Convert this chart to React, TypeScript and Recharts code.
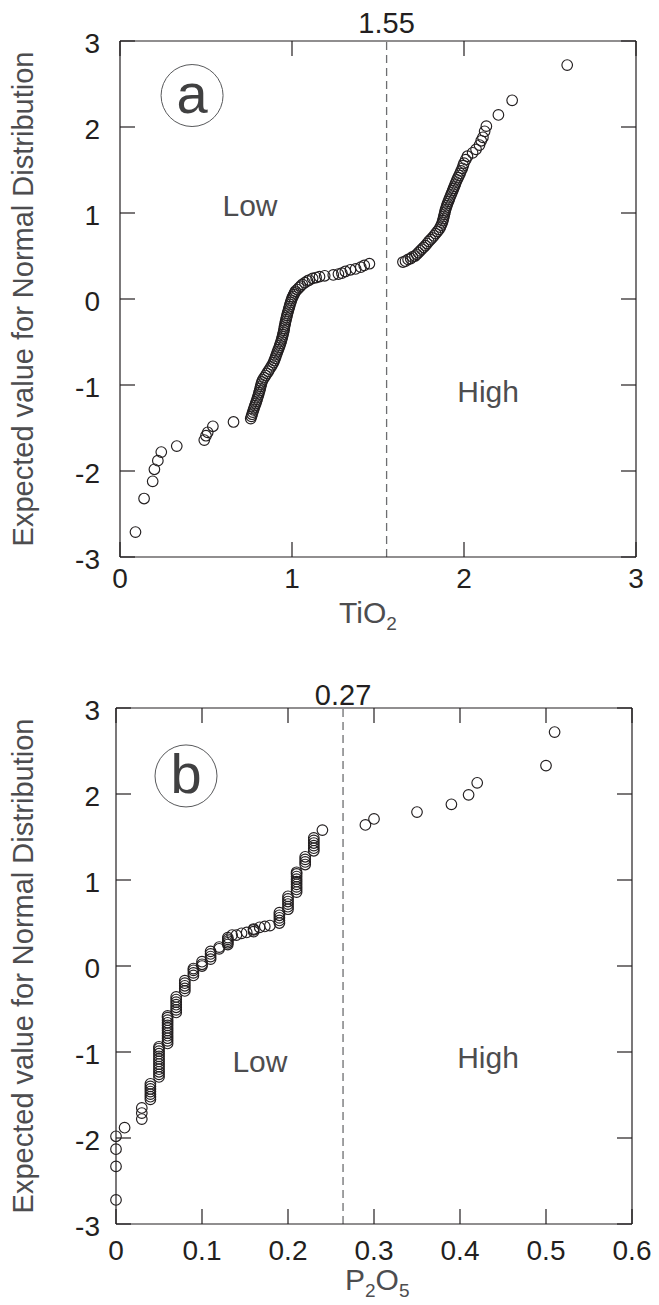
import { ReferenceDot, ReferenceLine, Scatter, ScatterChart, XAxis, YAxis } from 'recharts';

const FONT = '"Liberation Sans", Arial, Helvetica, sans-serif';
const INK = '#231f20';
const GREY = '#4d4d4f';

const scoreTicks = [-3, -2, -1, 0, 1, 2, 3];
const tio2Ticks = [0, 1, 2, 3];
const p2o5Ticks = [0, 0.1, 0.2, 0.3, 0.4, 0.5, 0.6];

// panel a: TiO2 vs expected normal value
const tio2LowTail: [number, number][] = [
  [0.09, -2.71], [0.14, -2.32], [0.19, -2.12], [0.2, -1.98], [0.22, -1.88], [0.24, -1.78],
  [0.33, -1.71], [0.49, -1.64], [0.5, -1.59], [0.51, -1.55], [0.54, -1.48], [0.66, -1.43],
];
const tio2LowSteep: [number, number][] = [
  [0.76, -1.39], [0.764, -1.365], [0.768, -1.34], [0.772, -1.315], [0.776, -1.29], [0.78, -1.265],
  [0.784, -1.24], [0.789, -1.215], [0.793, -1.19], [0.797, -1.165], [0.801, -1.14], [0.805, -1.115],
  [0.808, -1.09], [0.812, -1.065], [0.815, -1.04], [0.818, -1.015], [0.821, -0.99], [0.825, -0.965],
  [0.83, -0.94], [0.838, -0.915], [0.846, -0.89], [0.854, -0.865], [0.862, -0.84], [0.87, -0.815],
  [0.878, -0.79], [0.885, -0.765], [0.892, -0.74], [0.897, -0.715], [0.902, -0.69], [0.906, -0.665],
  [0.911, -0.64], [0.915, -0.615], [0.92, -0.59], [0.925, -0.565], [0.929, -0.54], [0.933, -0.515],
  [0.937, -0.49], [0.941, -0.465], [0.944, -0.44], [0.947, -0.415], [0.95, -0.39], [0.953, -0.365],
  [0.955, -0.34], [0.957, -0.315], [0.96, -0.29], [0.962, -0.265], [0.965, -0.24], [0.968, -0.215],
  [0.971, -0.19], [0.974, -0.165], [0.978, -0.14], [0.981, -0.115], [0.985, -0.09], [0.988, -0.065],
  [0.992, -0.04], [0.996, -0.015], [1.0, 0.01],
];
const tio2LowFlat: [number, number][] = [
  [1.005, 0.03], [1.01, 0.05], [1.015, 0.07], [1.02, 0.09], [1.03, 0.11], [1.04, 0.13],
  [1.05, 0.15], [1.06, 0.17], [1.075, 0.19], [1.09, 0.21], [1.1, 0.22], [1.12, 0.24],
  [1.14, 0.25], [1.16, 0.26], [1.19, 0.27], [1.24, 0.28], [1.27, 0.29], [1.29, 0.3],
  [1.31, 0.32], [1.34, 0.34], [1.37, 0.35], [1.4, 0.37], [1.42, 0.39], [1.45, 0.41],
];
const tio2High: [number, number][] = [
  [1.645, 0.43], [1.66, 0.44], [1.675, 0.46], [1.69, 0.47], [1.7, 0.49], [1.715, 0.5],
  [1.725, 0.52], [1.735, 0.54], [1.745, 0.56], [1.755, 0.58], [1.765, 0.6], [1.775, 0.62],
  [1.785, 0.645], [1.795, 0.67], [1.805, 0.69], [1.815, 0.71], [1.825, 0.735], [1.835, 0.76],
  [1.845, 0.785], [1.855, 0.81], [1.862, 0.835], [1.868, 0.86], [1.873, 0.885], [1.877, 0.91],
  [1.88, 0.935], [1.883, 0.96], [1.886, 0.985], [1.889, 1.01], [1.892, 1.035], [1.896, 1.06],
  [1.9, 1.085], [1.904, 1.11], [1.909, 1.135], [1.914, 1.16], [1.919, 1.185], [1.924, 1.21],
  [1.929, 1.235], [1.934, 1.26], [1.939, 1.285], [1.944, 1.31], [1.949, 1.335], [1.954, 1.36],
  [1.959, 1.385], [1.965, 1.41], [1.971, 1.435], [1.977, 1.46], [1.983, 1.49], [1.99, 1.52],
  [1.995, 1.55], [2.0, 1.58], [2.01, 1.62], [2.02, 1.66], [2.05, 1.7], [2.07, 1.74],
  [2.09, 1.79], [2.1, 1.84], [2.11, 1.88], [2.12, 1.95], [2.13, 2.01], [2.2, 2.14],
  [2.28, 2.31], [2.6, 2.72],
];

// panel b: P2O5 vs expected normal value (values come in 0.01 steps, so they stack)
const p2o5LowTail: [number, number][] = [
  [0, -2.72], [0, -2.33], [0, -2.13], [0, -1.98], [0.01, -1.88],
  [0.03, -1.78], [0.03, -1.71], [0.03, -1.65],
  [0.04, -1.55], [0.04, -1.52], [0.04, -1.49], [0.04, -1.46], [0.04, -1.43], [0.04, -1.4], [0.04, -1.37],
];
const p2o5LowStacks: [number, number][] = [
  [0.05, -1.29], [0.05, -1.26], [0.05, -1.23], [0.05, -1.2], [0.05, -1.17], [0.05, -1.14], [0.05, -1.11],
  [0.05, -1.08], [0.05, -1.05], [0.05, -1.02], [0.05, -0.99], [0.05, -0.96], [0.05, -0.94],
  [0.06, -0.9], [0.06, -0.87], [0.06, -0.84], [0.06, -0.81], [0.06, -0.78], [0.06, -0.75],
  [0.06, -0.72], [0.06, -0.69], [0.06, -0.66], [0.06, -0.63], [0.06, -0.6], [0.06, -0.58],
  [0.07, -0.54], [0.07, -0.51], [0.07, -0.48], [0.07, -0.45], [0.07, -0.42], [0.07, -0.39], [0.07, -0.36],
  [0.08, -0.29], [0.08, -0.26], [0.08, -0.23], [0.08, -0.2], [0.08, -0.17],
  [0.09, -0.11], [0.09, -0.08], [0.09, -0.05], [0.09, -0.03],
  [0.1, 0.0], [0.1, 0.02], [0.1, 0.05],
  [0.11, 0.08], [0.11, 0.11], [0.11, 0.14], [0.11, 0.17],
  [0.12, 0.2], [0.12, 0.22],
  [0.13, 0.25], [0.13, 0.27], [0.13, 0.29], [0.13, 0.31], [0.13, 0.33],
];
const p2o5LowMid: [number, number][] = [
  [0.135, 0.36], [0.14, 0.36], [0.146, 0.38], [0.152, 0.39], [0.16, 0.4], [0.16, 0.42], [0.16, 0.43],
  [0.167, 0.45], [0.173, 0.46], [0.179, 0.47],
  [0.19, 0.5], [0.19, 0.53], [0.19, 0.56], [0.19, 0.59], [0.19, 0.62],
  [0.2, 0.66], [0.2, 0.69], [0.2, 0.72], [0.2, 0.75], [0.2, 0.78], [0.2, 0.81],
  [0.21, 0.86], [0.21, 0.89], [0.21, 0.92], [0.21, 0.95], [0.21, 0.98], [0.21, 1.01], [0.21, 1.04], [0.21, 1.07], [0.21, 1.09],
  [0.22, 1.18], [0.22, 1.21], [0.22, 1.24], [0.22, 1.27],
  [0.23, 1.34], [0.23, 1.37], [0.23, 1.4], [0.23, 1.43], [0.23, 1.46], [0.23, 1.49],
  [0.24, 1.58],
];
const p2o5High: [number, number][] = [
  [0.29, 1.64], [0.3, 1.71], [0.35, 1.79], [0.39, 1.88], [0.41, 1.99], [0.42, 2.13], [0.5, 2.33], [0.51, 2.72],
];

const toPoints = (...groups: [number, number][][]) =>
  groups.flat().map(([x, y]) => ({ x, y }));

const tio2Data = toPoints(tio2LowTail, tio2LowSteep, tio2LowFlat, tio2High);
const p2o5Data = toPoints(p2o5LowTail, p2o5LowStacks, p2o5LowMid, p2o5High);

const TICK = 15;

function Ring(props: any) {
  const { cx, cy } = props;
  if (cx == null || cy == null) return null;
  return <circle cx={cx} cy={cy} r={5.3} fill="none" stroke={INK} strokeWidth={1.15} />;
}

// inward tick marks, label outside
const bottomTick = (gap: number) => (props: any) => {
  const { x, y, payload } = props;
  return (
    <g>
      <line x1={x} y1={y} x2={x} y2={y - TICK} stroke={INK} strokeWidth={1.2} />
      <text x={x} y={y + gap} textAnchor="middle" fontSize={28} fill={INK}>
        {payload.value}
      </text>
    </g>
  );
};
const leftTick = (gap: number) => (props: any) => {
  const { x, y, payload } = props;
  return (
    <g>
      <line x1={x} y1={y} x2={x + TICK} y2={y} stroke={INK} strokeWidth={1.2} />
      <text x={x - gap} y={y + 12} textAnchor="end" fontSize={28} fill={INK}>
        {payload.value}
      </text>
    </g>
  );
};
const topTick = (props: any) => (
  <line x1={props.x} y1={props.y} x2={props.x} y2={props.y + TICK} stroke={INK} strokeWidth={1.2} />
);
const rightTick = (props: any) => (
  <line x1={props.x} y1={props.y} x2={props.x - TICK} y2={props.y} stroke={INK} strokeWidth={1.2} />
);

const plainText = (value: string, size: number) => (props: any) => {
  const vb = props.viewBox || {};
  return (
    <text x={vb.x + vb.width / 2} y={vb.y + vb.height / 2} textAnchor="middle" fontSize={size} fill={GREY}>
      {value}
    </text>
  );
};

const badge = (letter: string) => (props: any) => {
  const vb = props.viewBox || {};
  return (
    <text x={vb.x + vb.width / 2} y={vb.y + vb.height / 2 + 17} textAnchor="middle" fontSize={56} fill="#404041">
      {letter}
    </text>
  );
};

interface PanelProps {
  data: { x: number; y: number }[];
  height: number;
  margin: { top: number; right: number; left: number; bottom: number };
  yAxisWidth: number;
  xAxisHeight: number;
  xDomain: [number, number];
  xTicks: number[];
  xLabelGap: number;
  yLabelGap: number;
  split: number;
  splitLabel: string;
  splitLabelOffset: number;
  letter: string;
  letterAt: [number, number];
  lowAt: [number, number];
  highAt: [number, number];
  titleY: number;
  xTitle: (y: number) => any;
  xTitleY: number;
}

function Panel(p: PanelProps) {
  return (
    <ScatterChart width={659} height={p.height} margin={p.margin}>
      <XAxis
        xAxisId="b"
        dataKey="x"
        type="number"
        domain={p.xDomain}
        ticks={p.xTicks}
        interval={0}
        height={p.xAxisHeight}
        stroke={INK}
        strokeWidth={1.2}
        tickLine={false}
        tickSize={0}
        tickMargin={0}
        tick={bottomTick(p.xLabelGap)}
        label={() => p.xTitle(p.xTitleY)}
      />
      <XAxis
        xAxisId="t"
        dataKey="x"
        orientation="top"
        type="number"
        domain={p.xDomain}
        ticks={p.xTicks}
        interval={0}
        height={1}
        stroke={INK}
        strokeWidth={1.2}
        tickLine={false}
        tickSize={0}
        tickMargin={0}
        tick={topTick}
      />
      <YAxis
        yAxisId="l"
        dataKey="y"
        type="number"
        domain={[-3, 3]}
        ticks={scoreTicks}
        interval={0}
        width={p.yAxisWidth}
        stroke={INK}
        strokeWidth={1.2}
        tickLine={false}
        tickSize={0}
        tickMargin={0}
        tick={leftTick(p.yLabelGap)}
        label={() => (
          <text
            x={33}
            y={p.titleY}
            transform={`rotate(-90 33 ${p.titleY})`}
            textAnchor="middle"
            fontSize={29}
            fill={GREY}
          >
            Expected value for Normal Distribution
          </text>
        )}
      />
      <YAxis
        yAxisId="r"
        dataKey="y"
        orientation="right"
        type="number"
        domain={[-3, 3]}
        ticks={scoreTicks}
        interval={0}
        width={1}
        stroke={INK}
        strokeWidth={1.2}
        tickLine={false}
        tickSize={0}
        tickMargin={0}
        tick={rightTick}
      />
      <ReferenceLine
        xAxisId="b"
        yAxisId="l"
        x={p.split}
        stroke="#6d6e70"
        strokeWidth={1.3}
        strokeDasharray="8 5"
        label={{ value: p.splitLabel, position: 'top', offset: p.splitLabelOffset, fontSize: 29, fill: INK }}
      />
      <ReferenceDot
        xAxisId="b"
        yAxisId="l"
        x={p.letterAt[0]}
        y={p.letterAt[1]}
        r={31}
        fill="none"
        stroke="#58595b"
        strokeWidth={1}
        label={badge(p.letter)}
      />
      <ReferenceDot xAxisId="b" yAxisId="l" x={p.lowAt[0]} y={p.lowAt[1]} r={1} fill="none" stroke="none" label={plainText('Low', 30)} />
      <ReferenceDot xAxisId="b" yAxisId="l" x={p.highAt[0]} y={p.highAt[1]} r={1} fill="none" stroke="none" label={plainText('High', 30)} />
      {/* keeps the top and right frame axes bound to data; draws nothing */}
      <Scatter xAxisId="t" yAxisId="r" data={p.data} shape={() => <g />} isAnimationActive={false} />
      <Scatter xAxisId="b" yAxisId="l" data={p.data} shape={<Ring />} isAnimationActive={false} />
    </ScatterChart>
  );
}

export default function App() {
  return (
    <div style={{ position: 'absolute', left: 0, top: 0, width: 659, height: 1305, background: '#fff', fontFamily: FONT }}>
      <Panel
        data={tio2Data}
        height={650}
        margin={{ top: 40, right: 22, left: 0, bottom: 0 }}
        yAxisWidth={120}
        xAxisHeight={93}
        xDomain={[0, 3]}
        xTicks={tio2Ticks}
        xLabelGap={31}
        yLabelGap={20}
        split={1.55}
        splitLabel="1.55"
        splitLabelOffset={8}
        letter="a"
        letterAt={[0.419, 2.366]}
        lowAt={[0.756, 0.965]}
        highAt={[2.14, -1.198]}
        titleY={299}
        xTitleY={623}
        xTitle={(y) => (
          <text x={339} y={y} fontSize={30} fill={GREY}>
            TiO<tspan fontSize={19} dy={7}>2</tspan>
          </text>
        )}
      />
      <Panel
        data={p2o5Data}
        height={655}
        margin={{ top: 57, right: 26, left: 0, bottom: 0 }}
        yAxisWidth={116}
        xAxisHeight={81}
        xDomain={[0, 0.6]}
        xTicks={p2o5Ticks}
        xLabelGap={36}
        yLabelGap={16}
        split={0.264}
        splitLabel="0.27"
        splitLabelOffset={3}
        letter="b"
        letterAt={[0.0814, 2.21]}
        lowAt={[0.1674, -1.233]}
        highAt={[0.4326, -1.186]}
        titleY={316}
        xTitleY={640}
        xTitle={(y) => (
          <text x={345} y={y} fontSize={30} fill={GREY}>
            P<tspan fontSize={19} dy={7}>2</tspan>
            <tspan dy={-7}>O</tspan>
            <tspan fontSize={19} dy={7}>5</tspan>
          </text>
        )}
      />
    </div>
  );
}
